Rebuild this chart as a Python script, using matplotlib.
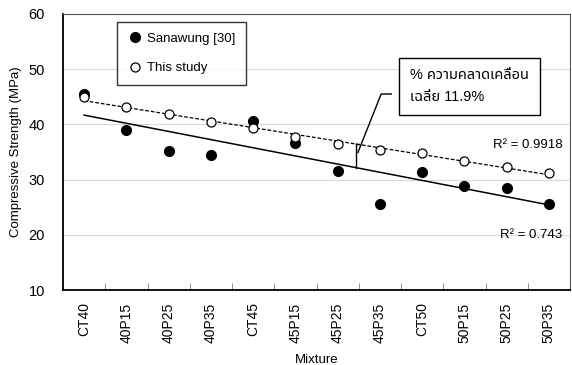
import matplotlib
matplotlib.use('Agg')
import matplotlib.pyplot as plt
import numpy as np

# ==============================================================================
# Data
# ==============================================================================

mixtures = ['CT40', '40P15', '40P25', '40P35', 'CT45', '45P15',
            '45P25', '45P35', 'CT50', '50P15', '50P25', '50P35']
sanawung = [45.5, 38.9, 35.1, 34.5, 40.7, 36.6, 31.5, 25.5, 31.4, 28.8, 28.5, 25.6]
this_study = [45.0, 43.1, 41.8, 40.4, 39.4, 37.7, 36.5, 35.3, 34.9, 33.4, 32.3, 31.2]
r2_labels = ['R² = 0.743', 'R² = 0.9918']

plt.rcParams['font.family'] = ['Liberation Sans', 'Noto Sans Thai', 'Noto Sans', 'DejaVu Sans']

W, H = 572, 365
fig = plt.figure(figsize=(W / 100, H / 100), dpi=100)
ax = fig.add_axes([63 / W, 1 - 290 / H, (570 - 63) / W, (290 - 14) / H])

x = np.arange(len(mixtures))

# linear trendlines
fit_s = np.polyfit(x, sanawung, 1)
fit_t = np.polyfit(x, this_study, 1)
ax.plot(x, np.polyval(fit_s, x), color='black', lw=1.1, zorder=2)
ax.plot(x, np.polyval(fit_t, x), color='black', lw=0.9, ls=(0, (3, 1.5)), zorder=2)

ax.plot(x, sanawung, 'o', color='black', ms=7, label='Sanawung [30]', zorder=3)
ax.plot(x, this_study, 'o', mfc='white', mec='black', mew=0.9, ms=6.5,
        label='This study', zorder=4)

ax.set_xlim(-0.5, len(mixtures) - 0.5)
ax.set_ylim(10, 60)
ax.set_yticks([10, 20, 30, 40, 50, 60])
ax.yaxis.grid(True, color='#d9d9d9', lw=0.8)
ax.set_axisbelow(True)
ax.tick_params(axis='y', length=0, labelsize=10.5, pad=13)

ax.set_xticks(x)
ax.set_xticklabels(mixtures, rotation=90, fontsize=10)
ax.tick_params(axis='x', which='major', length=0, pad=9)
ax.set_xticks(x[:-1] + 0.5, minor=True)
ax.tick_params(axis='x', which='minor', direction='in', length=5, color='#808080')

for side in ['left', 'bottom']:
    ax.spines[side].set_linewidth(1.3)
ax.spines['top'].set_color('#555555')
ax.spines['right'].set_color('#555555')

ax.set_ylabel('Compressive Strength (MPa)', fontsize=9.5, labelpad=5)
ax.set_xlabel('Mixture', fontsize=9.5, labelpad=8)

leg = ax.legend(loc='upper left', bbox_to_anchor=((117 - 63) / 507, 1 - (22 - 14) / 276),
                frameon=True, fancybox=False, edgecolor='black', fontsize=9.5,
                handletextpad=0.3, labelspacing=1.3, borderpad=0.8,
                handlelength=1.2, borderaxespad=0)
leg.get_frame().set_linewidth(1.0)

# R² labels
ax.text(0.985, (290 - 235) / 276, r2_labels[0], transform=ax.transAxes,
        ha='right', va='center', fontsize=9.5)
ax.text(0.985, (290 - 145) / 276, r2_labels[1], transform=ax.transAxes,
        ha='right', va='center', fontsize=9.5)

# error bracket between the trendlines
xb = 6.43
y_lo = np.polyval(fit_s, xb)
y_hi = np.polyval(fit_t, xb)
ax.plot([xb, xb], [y_lo, y_hi], color='black', lw=1.0, zorder=2)
ax.plot([xb, xb + 0.08], [y_hi, y_hi], color='black', lw=1.0, zorder=2)
ax.plot([xb + 0.05, 7.03, 7.27], [(y_lo + y_hi) / 2 + 0.6, 45.5, 45.5],
        color='black', lw=1.0, zorder=2)

ax.text(7.71, 46.9, '% ความคลาดเคลื่อน\nเฉลี่ย 11.9%', fontsize=10.5,
        va='center', ha='left', linespacing=1.7,
        bbox=dict(boxstyle='square,pad=0.75', fc='white', ec='black', lw=1.0))

fig.savefig('out.png', dpi=100)
